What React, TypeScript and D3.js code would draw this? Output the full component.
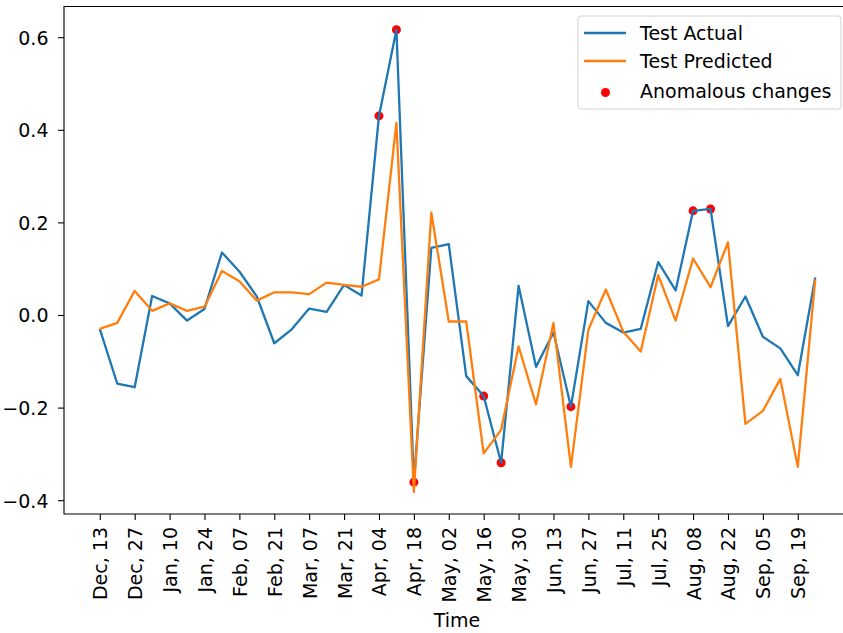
import React, { useEffect, useRef } from "react";
import * as d3 from "d3";

// weekly observations, Dec 13 onwards
const actual = [
  -0.030, -0.148, -0.156, 0.041, 0.025, -0.012, 0.013, 0.135, 0.094, 0.040,
  -0.061, -0.031, 0.014, 0.007, 0.065, 0.042, 0.430, 0.616, -0.361, 0.145,
  0.153, -0.132, -0.175, -0.319, 0.063, -0.112, -0.038, -0.198, 0.030, -0.017,
  -0.038, -0.030, 0.114, 0.053, 0.225, 0.229, -0.024, 0.040, -0.047, -0.072,
  -0.130, 0.081,
];

const predicted = [
  -0.030, -0.017, 0.052, 0.009, 0.025, 0.009, 0.018, 0.095, 0.073, 0.031,
  0.049, 0.049, 0.045, 0.070, 0.065, 0.061, 0.077, 0.415, -0.382, 0.221,
  -0.014, -0.014, -0.299, -0.248, -0.068, -0.193, -0.017, -0.328, -0.032, 0.055,
  -0.036, -0.079, 0.086, -0.012, 0.122, 0.060, 0.157, -0.235, -0.207, -0.138,
  -0.328, 0.077,
];

// indices flagged as anomalous
const anomalies = [16, 17, 18, 22, 23, 27, 34, 35];

// one label every two weeks
const tickLabels = [
  "Dec, 13", "Dec, 27", "Jan, 10", "Jan, 24", "Feb, 07", "Feb, 21", "Mar, 07",
  "Mar, 21", "Apr, 04", "Apr, 18", "May, 02", "May, 16", "May, 30", "Jun, 13",
  "Jun, 27", "Jul, 11", "Jul, 25", "Aug, 08", "Aug, 22", "Sep, 05", "Sep, 19",
];

const yTicks = [-0.4, -0.2, 0.0, 0.2, 0.4, 0.6];

const BLUE = "#1f77b4";
const ORANGE = "#ff7f0e";
const FONT = "DejaVu Sans, sans-serif";
const FS = 19;

const AnomalyChart: React.FC = () => {
  const svgRef = useRef<SVGSVGElement | null>(null);

  useEffect(() => {
    if (!svgRef.current) return;
    const svg = d3.select(svgRef.current);
    svg.selectAll("*").remove();

    const left = 64, right = 851, top = 6.5, bottom = 514;

    const x = d3.scaleLinear().domain([-2.05, 43.05]).range([left, right]);
    const y = d3.scaleLinear().domain([-0.4298, 0.6663]).range([bottom, top]);

    const fmt = d3.format(".1f");

    // Y axis
    const yAxis = svg.append("g")
      .attr("transform", `translate(${left},0)`)
      .call(d3.axisLeft(y).tickValues(yTicks).tickSize(6).tickPadding(9.5)
        .tickFormat(d => fmt(d as number).replace("-", "\u2212")));
    yAxis.select(".domain").remove();
    yAxis.selectAll(".tick line").attr("stroke", "#000").attr("stroke-width", 1.1);
    yAxis.selectAll("text")
      .attr("font-family", FONT).attr("font-size", FS).attr("fill", "#000")
      .attr("dy", "0.36em");

    // X axis, ticks every two weeks
    const xTickIdx = tickLabels.map((_, i) => i * 2);
    const xAxis = svg.append("g")
      .attr("transform", `translate(0,${bottom})`)
      .call(d3.axisBottom(x).tickValues(xTickIdx).tickSize(6)
        .tickFormat((_, i) => tickLabels[i]));
    xAxis.select(".domain").remove();
    xAxis.selectAll(".tick line").attr("stroke", "#000").attr("stroke-width", 1.1);
    xAxis.selectAll("text")
      .attr("font-family", FONT).attr("font-size", FS).attr("fill", "#000")
      .attr("text-anchor", "end")
      .attr("dominant-baseline", "central")
      .attr("dy", null)
      .attr("y", 0)
      .attr("transform", "translate(0,13) rotate(-90)");

    // spines
    svg.append("path")
      .attr("d", `M${right},${top}H${left}V${bottom}H${right}`)
      .attr("fill", "none").attr("stroke", "#000").attr("stroke-width", 1.1);

    svg.append("text")
      .attr("x", (left + 851) / 2 - 0.5).attr("y", 627)
      .attr("text-anchor", "middle")
      .attr("font-family", FONT).attr("font-size", FS)
      .text("Time");

    const plot = svg.append("g");

    // anomalous points (under the lines, as in matplotlib)
    plot.selectAll("circle")
      .data(anomalies)
      .enter()
      .append("circle")
      .attr("cx", d => x(d))
      .attr("cy", d => y(actual[d]))
      .attr("r", 4.5)
      .attr("fill", "red");

    const line = d3.line<number>().x((_, i) => x(i)).y(d => y(d));

    plot.append("path").datum(actual)
      .attr("d", line).attr("fill", "none")
      .attr("stroke", BLUE).attr("stroke-width", 2.3).attr("stroke-linejoin", "round");

    plot.append("path").datum(predicted)
      .attr("d", line).attr("fill", "none")
      .attr("stroke", ORANGE).attr("stroke-width", 2.3).attr("stroke-linejoin", "round");

    // legend
    const lg = svg.append("g");
    lg.append("rect")
      .attr("x", 578).attr("y", 16).attr("width", 263).attr("height", 93)
      .attr("rx", 3.5)
      .attr("fill", "white").attr("fill-opacity", 0.8)
      .attr("stroke", "#d6d6d6").attr("stroke-width", 1.1);

    const entries = [
      { label: "Test Actual", kind: "line", color: BLUE, yy: 33 },
      { label: "Test Predicted", kind: "line", color: ORANGE, yy: 61 },
      { label: "Anomalous changes", kind: "dot", color: "red", yy: 91 },
    ];
    entries.forEach(e => {
      if (e.kind === "line") {
        lg.append("line")
          .attr("x1", 584).attr("x2", 626).attr("y1", e.yy).attr("y2", e.yy)
          .attr("stroke", e.color).attr("stroke-width", 2.3);
      } else {
        lg.append("circle").attr("cx", 605.5).attr("cy", e.yy + 1.5).attr("r", 4.5)
          .attr("fill", e.color);
      }
      lg.append("text")
        .attr("x", 640).attr("y", e.yy + 6.5)
        .attr("font-family", FONT).attr("font-size", FS).attr("fill", "#000")
        .text(e.label);
    });
  }, []);

  return <svg ref={svgRef} width={843} height={633} style={{ display: "block" }}></svg>;
};

export default function App() {
  return (
    <div style={{ position: "absolute", left: 0, top: 0, background: "white" }}>
      <AnomalyChart />
    </div>
  );
}
